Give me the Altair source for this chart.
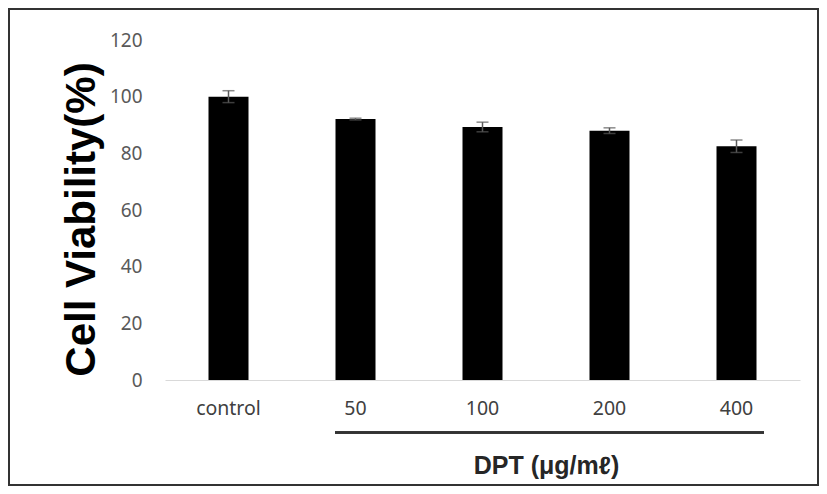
import altair as alt
import pandas as pd

categories = ["control", "50", "100", "200", "400"]
viability = [100.0, 92.1, 89.3, 88.0, 82.5]
errors = [2.1, 0.3, 1.7, 1.0, 2.2]
y_ticks = [0, 20, 40, 60, 80, 100, 120]

df = pd.DataFrame({
    "cat": categories,
    "val": viability,
    "lo": [v - e for v, e in zip(viability, errors)],
    "hi": [v + e for v, e in zip(viability, errors)],
})

W, H = 635, 340
PL, PT, PR, PB = 157, 32, 19, 106
LABEL_FONT = "Noto Sans"

x_enc = alt.X(
    "cat:N", sort=categories,
    scale=alt.Scale(paddingInner=0.685, paddingOuter=0.3425),
    axis=alt.Axis(
        title="DPT (μg/mℓ)", labelAngle=0, labelFontSize=19.5, labelColor="#404040",
        labelFont=LABEL_FONT, labelPadding=19, ticks=False,
        domainColor="#d9d9d9", domainWidth=1.2,
        titleFont="Liberation Sans", titleFontSize=25, titleFontWeight="bold",
        titleColor="#262626", titleX=381, titleY=93, titleAlign="center",
        titleBaseline="alphabetic", titleAnchor="start",
    ),
)
y_scale = alt.Scale(domain=[0, 120], nice=False)

bars = alt.Chart(df).mark_bar(color="#000000").encode(
    x=x_enc,
    y=alt.Y(
        "val:Q", scale=y_scale,
        axis=alt.Axis(
            values=y_ticks, grid=False, domain=False, ticks=False,
            labelFontSize=19, labelColor="#595959", labelFont=LABEL_FONT,
            labelPadding=23,
            title="Cell Viability(%)", titleFont="Liberation Sans",
            titleFontSize=42, titleFontWeight="bold", titleColor="#000000",
            titleX=-71, titleY=179, titleAlign="center", titleBaseline="alphabetic",
            titleAngle=270, titleAnchor="start",
        ),
    ),
)

err = alt.Chart(df).mark_rule(color="#595959", strokeWidth=1.5).encode(
    x=alt.X("cat:N", sort=categories),
    y=alt.Y("lo:Q", scale=y_scale),
    y2="hi:Q",
)
cap_lo = alt.Chart(df).mark_tick(color="#595959", thickness=1.5, size=12).encode(
    x=alt.X("cat:N", sort=categories),
    y=alt.Y("lo:Q", scale=y_scale),
)
cap_hi = alt.Chart(df).mark_tick(color="#595959", thickness=1.5, size=12).encode(
    x=alt.X("cat:N", sort=categories),
    y=alt.Y("hi:Q", scale=y_scale),
)

group_line = alt.Chart(df).mark_rule(color="#333333", strokeWidth=2).encode(
    x=alt.value(170), x2=alt.value(599), y=alt.value(392.5)
)

border = alt.Chart(df).mark_rect(fill=None, stroke="#333333", strokeWidth=2).encode(
    x=alt.value(-PL + 1), x2=alt.value(W + PR - 1),
    y=alt.value(-PT + 1), y2=alt.value(H + PB - 1),
)

chart = alt.layer(bars, err, cap_lo, cap_hi, group_line, border).properties(
    width=W, height=H,
    autosize=alt.AutoSizeParams(type="none"),
    padding={"left": PL, "top": PT, "right": PR, "bottom": PB},
).configure_view(stroke=None)

chart.save("out.html", embed_options={"renderer": "svg", "actions": False})
